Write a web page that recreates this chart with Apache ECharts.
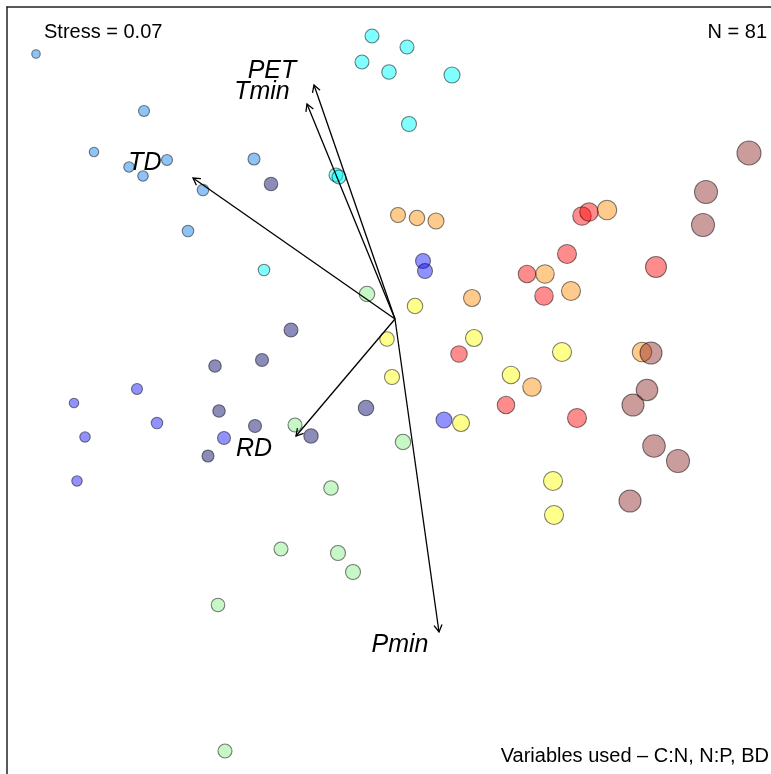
<!DOCTYPE html>
<html>
<head>
<meta charset="utf-8">
<script src="https://cdn.jsdelivr.net/npm/echarts@6/dist/echarts.min.js"></script>
<style>html,body{margin:0;padding:0;background:#fff}#c{width:771px;height:774px}</style>
</head>
<body>
<div id="c"></div>
<script>
// NMDS site scores: [NMDS1, NMDS2, bubble size]
const groupNames = ['G1','G2','G3','G4','G5','G6','G7','G8','G9'];
const g1 = [[-1.436,1.060,9.5],[-1.004,0.832,12],[-1.204,0.668,10.5],[-1.064,0.608,11.5],[-1.008,0.572,11.5],[-0.912,0.636,12],[-0.768,0.516,12.5],[-0.828,0.352,12.5],[-0.564,0.640,13]];
const g2 = [[-0.092,1.132,15],[0.048,1.088,15],[-0.132,1.028,15],[-0.024,0.988,15.5],[0.228,0.976,17],[0.056,0.780,16],[-0.236,0.576,15],[-0.224,0.568,15],[-0.524,0.196,12.5]];
const g3 = [[-0.496,0.540,14.5],[-0.416,-0.044,15],[-0.532,-0.164,14],[-0.720,-0.188,13.5],[-0.704,-0.368,13.5],[-0.560,-0.428,14],[-0.748,-0.548,13],[-0.336,-0.468,15.5],[-0.116,-0.356,16.5]];
const g4 = [[-1.284,-0.336,10.5],[-1.240,-0.472,11.5],[-1.272,-0.648,11.5],[-1.032,-0.280,12],[-0.952,-0.416,12.5],[-0.684,-0.476,14],[0.112,0.232,16],[0.120,0.192,16],[0.196,-0.404,17]];
const g5 = [[-0.112,0.100,16.5],[-0.400,-0.424,15],[0.032,-0.492,16.5],[-0.256,-0.676,15.5],[-0.456,-0.920,15],[-0.228,-0.936,16],[-0.168,-1.012,16],[-0.708,-1.144,14.5],[-0.680,-1.728,15]];
const g6 = [[0.080,0.052,16.5],[-0.032,-0.080,15.5],[-0.012,-0.232,16],[0.316,-0.076,18],[0.464,-0.224,18.5],[0.264,-0.416,18],[0.668,-0.132,20],[0.632,-0.648,20],[0.636,-0.784,20]];
const g7 = [[0.012,0.416,16],[0.088,0.404,16.5],[0.164,0.392,17],[0.308,0.084,18],[0.600,0.180,19.5],[0.704,0.112,20],[0.548,-0.272,19.5],[0.848,0.436,20.5],[0.988,-0.132,20.5]];
const g8 = [[0.256,-0.140,17.5],[0.444,-0.344,18.5],[0.528,0.180,18.5],[0.596,0.092,19.5],[0.728,-0.396,20],[0.688,0.260,20],[1.044,0.208,22],[0.748,0.412,19.5],[0.776,0.428,19.5]];
const g9 = [[1.416,0.664,25],[1.244,0.508,24],[1.232,0.376,24],[1.024,-0.136,23],[1.008,-0.284,22.5],[0.952,-0.344,23],[1.036,-0.508,23.5],[1.132,-0.568,24],[0.940,-0.728,23]];

// Environmental vectors (envfit): name, NMDS1, NMDS2
const vecNames = ['PET','Tmin','TD','RD','Pmin'];
const vecX = [-0.324,-0.352,-0.808,-0.396,0.176];
const vecY = [0.936,0.860,0.564,-0.468,-1.252];
// label anchor positions
const labX = [-0.492,-0.532,-1.000,-0.564,0.020];
const labY = [0.992,0.908,0.624,-0.520,-1.306];

const stressText = 'Stress = 0.07';
const nText = 'N = 81';
const varText = 'Variables used \u2013 C:N, N:P, BD';

const groups = [g1,g2,g3,g4,g5,g6,g7,g8,g9];
const colors = [
  'rgba(30,136,235,0.5)',
  'rgba(0,255,255,0.5)',
  'rgba(25,25,120,0.5)',
  'rgba(0,0,255,0.43)',
  'rgba(144,238,144,0.5)',
  'rgba(255,255,0,0.45)',
  'rgba(255,140,0,0.45)',
  'rgba(255,0,0,0.45)',
  'rgba(139,35,35,0.45)'
];

const chart = echarts.init(document.getElementById('c'), null, {renderer:'canvas'});
const series = groups.map((g, i) => ({
  type: 'scatter',
  name: groupNames[i],
  data: g,
  symbol: 'circle',
  symbolSize: v => v[2] - 1,
  itemStyle: {color: colors[i], borderColor: 'rgba(0,0,0,0.5)', borderWidth: 1.1, opacity: 1},
  emphasis: {disabled: true},
  silent: true,
  z: 2
}));

series.push({
  type: 'custom',
  name: 'vectors',
  data: vecNames.map((n, i) => [0, 0, vecX[i], vecY[i]]),
  encode: {x: [0, 2], y: [1, 3]},
  silent: true,
  z: 5,
  renderItem: function (params, api) {
    const p0 = api.coord([api.value(0), api.value(1)]);
    const p1 = api.coord([api.value(2), api.value(3)]);
    const ang = Math.atan2(p1[1] - p0[1], p1[0] - p0[0]);
    const L = 8, a = Math.PI / 6;
    const h1 = [p1[0] - L * Math.cos(ang - a), p1[1] - L * Math.sin(ang - a)];
    const h2 = [p1[0] - L * Math.cos(ang + a), p1[1] - L * Math.sin(ang + a)];
    return {
      type: 'group',
      children: [
        {type: 'line', shape: {x1: p0[0], y1: p0[1], x2: p1[0], y2: p1[1]}, style: {stroke: '#000', lineWidth: 1.3}},
        {type: 'polyline', shape: {points: [h1, p1, h2]}, style: {stroke: '#000', lineWidth: 1.3, fill: null}}
      ]
    };
  }
});

series.push({
  type: 'custom',
  name: 'labels',
  data: vecNames.map((n, i) => [labX[i], labY[i], i]),
  encode: {x: 0, y: 1},
  silent: true,
  z: 6,
  renderItem: function (params, api) {
    const p = api.coord([api.value(0), api.value(1)]);
    return {
      type: 'text',
      x: p[0], y: p[1],
      style: {
        text: vecNames[api.value(2)],
        fill: '#000',
        font: 'italic 25px "Liberation Sans", Arial, sans-serif',
        align: 'center', verticalAlign: 'middle'
      }
    };
  }
});

const frame = {show: true, onZero: false, lineStyle: {color: '#222', width: 1.5}};
chart.setOption({
  animation: false,
  backgroundColor: '#fff',
  grid: {left: 7, top: 7, right: 0, bottom: 0, show: false},
  xAxis: {type: 'value', position: 'top', min: -1.552, max: 1.504, axisLine: frame, axisTick: {show: false}, axisLabel: {show: false}, splitLine: {show: false}},
  yAxis: {type: 'value', position: 'left', min: -1.82, max: 1.248, axisLine: frame, axisTick: {show: false}, axisLabel: {show: false}, splitLine: {show: false}},
  graphic: [
    {type: 'text', left: 44, top: 22, style: {text: stressText, font: '20px "Liberation Sans", Arial, sans-serif', fill: '#000'}},
    {type: 'text', right: 4, top: 22, style: {text: nText, font: '20px "Liberation Sans", Arial, sans-serif', fill: '#000'}},
    {type: 'text', right: 2, top: 746, style: {text: varText, font: '20px "Liberation Sans", Arial, sans-serif', fill: '#000'}}
  ],
  series: series
});
</script>
</body>
</html>
